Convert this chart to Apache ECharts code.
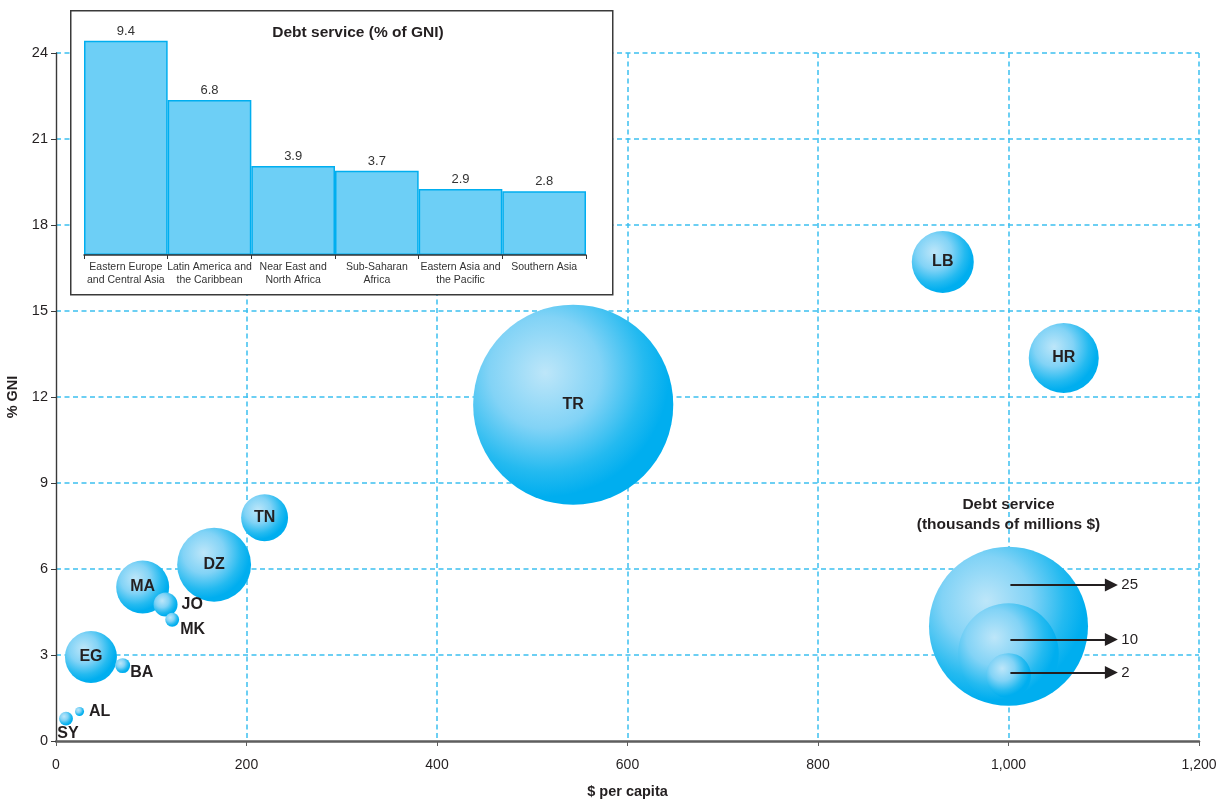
<!DOCTYPE html>
<html>
<head>
<meta charset="utf-8">
<title>Debt service bubble chart</title>
<script src="https://cdn.jsdelivr.net/npm/echarts@6/dist/echarts.min.js"></script>
<style>
  html, body { margin: 0; padding: 0; background: #fff; }
  #chart { width: 1226px; height: 799px; }
</style>
</head>
<body>
<div id="chart"></div>
<script>
// bubbles: country, $ per capita, % GNI, debt service (thousands of millions $)
const countries = ['SY', 'AL', 'EG', 'BA', 'MA', 'JO', 'MK', 'DZ', 'TN', 'TR', 'LB', 'HR'];
const perCapita = [10.5, 24.7, 36.7, 70, 91, 115, 122, 166, 219, 543, 931, 1058];
const pctGNI = [0.78, 1.03, 2.93, 2.63, 5.37, 4.76, 4.23, 6.15, 7.79, 11.73, 16.71, 13.36];
const debtService = [0.19, 0.08, 2.67, 0.22, 2.78, 0.57, 0.19, 5.4, 2.18, 39.6, 3.8, 4.85];

// size legend
const legendSizes = [25, 10, 2];
const legendX = 1000;
const legendY = [4.0, 3.05, 2.28];
const arrowY = [5.44, 3.54, 2.39];
const arrowEndX = 1108;

// inset: debt service % of GNI by region
const regions = [
  'Eastern Europe\nand Central Asia',
  'Latin America and\nthe Caribbean',
  'Near East and\nNorth Africa',
  'Sub-Saharan\nAfrica',
  'Eastern Asia and\nthe Pacific',
  'Southern Asia'
];
const regionDebt = [9.4, 6.8, 3.9, 3.7, 2.9, 2.8];

const xTicks = { min: 0, max: 1200, interval: 200 };
const yTicks = { min: 0, max: 24, interval: 3 };

const FONT = 'Liberation Sans, Arial, Helvetica, sans-serif';
const INK = '#231f20';
const GRID_BLUE = '#3cc0f0';

// labels that sit outside the small bubbles
const outsideLabel = {
  JO: { position: 'right', distance: 4 },
  MK: { position: 'right', distance: 1, offset: [0, 10] },
  BA: { position: 'right', distance: 0, offset: [0, 7] },
  AL: { position: 'right', distance: 5 },
  SY: { position: 'bottom', distance: 0, offset: [2, 0] }
};

let bubbleFill = new echarts.graphic.RadialGradient(0.36, 0.34, 0.62, [
  { offset: 0, color: '#bde6f9' },
  { offset: 0.45, color: '#82d3f6' },
  { offset: 0.8, color: '#24baf0' },
  { offset: 1, color: '#00aeef' }
]);

let sizeOf = (v) => Math.sqrt(v[2]) * 31.8;

let bubbleData = countries.map((c, i) => {
  let item = { name: c, value: [perCapita[i], pctGNI[i], debtService[i]] };
  if (outsideLabel[c]) item.label = outsideLabel[c];
  return item;
});

let legendData = legendSizes.map((s, i) => {
  let item = { name: String(s), value: [legendX, legendY[i], s], label: { show: false } };
  if (i === 0) {
    item.label = {
      show: true,
      position: 'top',
      distance: 12,
      formatter: 'Debt service\n(thousands of millions $)',
      fontSize: 15.5,
      lineHeight: 20
    };
  }
  return item;
});

let chart = echarts.init(document.getElementById('chart'), null, { renderer: 'canvas' });

let dashed = { color: GRID_BLUE, type: [5, 3.5], width: 1.5 };

let option = {
  animation: false,
  backgroundColor: '#ffffff',
  textStyle: { fontFamily: FONT },
  title: {
    text: 'Debt service (% of GNI)',
    left: 353,
    top: 20,
    textAlign: 'center',
    textStyle: { fontSize: 15.5, fontWeight: 'bold', color: INK, fontFamily: FONT },
    z: 6
  },
  graphic: [
    {
      type: 'rect',
      left: 70,
      top: 10,
      shape: { width: 542, height: 284 },
      style: { fill: '#ffffff', stroke: '#3a3a3a', lineWidth: 1.5 },
      z: 2
    }
  ],
  grid: [
    { left: 56, right: 27, top: 53, bottom: 58, containLabel: false, outerBoundsMode: 'none' },
    { left: 84, right: 640, top: 27, bottom: 544, containLabel: false, outerBoundsMode: 'none' }
  ],
  xAxis: [
    {
      type: 'value',
      gridIndex: 0,
      min: xTicks.min,
      max: xTicks.max,
      interval: xTicks.interval,
      name: '$ per capita',
      nameLocation: 'middle',
      nameGap: 43,
      nameTextStyle: { fontSize: 14.5, fontWeight: 'bold', color: INK },
      axisLine: { lineStyle: { color: '#5e5e5e', width: 2.5 } },
      axisTick: { show: true, length: 5, lineStyle: { color: '#5e5e5e' } },
      axisLabel: {
        fontSize: 14,
        color: INK,
        margin: 17,
        formatter: (v) => v.toLocaleString('en-US')
      },
      splitLine: { show: true, showMinLine: false, lineStyle: dashed }
    },
    {
      type: 'category',
      gridIndex: 1,
      data: regions,
      z: 5,
      axisLine: { lineStyle: { color: '#333', width: 1.5 } },
      axisTick: { show: true, length: 4, lineStyle: { color: '#333' } },
      axisLabel: {
        interval: 0,
        margin: 6,
        align: 'center',
        formatter: (v) => v.split('\n').map((l) => '{a|' + l + '}').join('\n'),
        rich: { a: { fontSize: 10.5, color: '#333', lineHeight: 13, fontFamily: FONT } }
      },
      splitLine: { show: false }
    }
  ],
  yAxis: [
    {
      type: 'value',
      gridIndex: 0,
      min: yTicks.min,
      max: yTicks.max,
      interval: yTicks.interval,
      name: '% GNI',
      nameLocation: 'middle',
      nameGap: 30,
      nameRotate: 90,
      nameTextStyle: { fontSize: 14.5, fontWeight: 'bold', color: INK },
      axisLine: { show: true, lineStyle: { color: '#3a3a3a', width: 1.4 } },
      axisTick: { show: true, length: 5, lineStyle: { color: '#3a3a3a' } },
      axisLabel: { fontSize: 14.5, color: INK, margin: 8 },
      splitLine: { show: true, showMinLine: false, lineStyle: dashed }
    },
    {
      type: 'value',
      gridIndex: 1,
      min: 0,
      max: 10,
      show: false
    }
  ],
  series: [
    {
      name: 'countries',
      type: 'scatter',
      xAxisIndex: 0,
      yAxisIndex: 0,
      data: bubbleData,
      symbolSize: sizeOf,
      itemStyle: { color: bubbleFill, opacity: 1 },
      label: {
        show: true,
        position: 'inside',
        formatter: '{b}',
        fontSize: 16,
        fontWeight: 'bold',
        color: INK
      },
      z: 3
    },
    {
      name: 'size legend',
      type: 'scatter',
      xAxisIndex: 0,
      yAxisIndex: 0,
      data: legendData,
      symbolSize: sizeOf,
      itemStyle: { color: bubbleFill, opacity: 1 },
      label: { fontSize: 15.5, fontWeight: 'bold', color: INK },
      markLine: {
        silent: true,
        symbol: ['none', 'triangle'],
        symbolSize: 13,
        lineStyle: { color: INK, width: 1.8, type: 'solid' },
        label: {
          show: true,
          position: 'end',
          distance: 10,
          formatter: '{b}',
          fontSize: 15,
          color: INK
        },
        data: legendSizes.map((s, i) => [
          { name: String(s), coord: [legendX + 2, arrowY[i]] },
          { coord: [arrowEndX, arrowY[i]] }
        ])
      },
      z: 4
    },
    {
      name: 'Debt service (% of GNI)',
      type: 'bar',
      xAxisIndex: 1,
      yAxisIndex: 1,
      data: regionDebt,
      barCategoryGap: 0,
      itemStyle: { color: '#6dcff6', borderColor: '#00aeef', borderWidth: 1.5 },
      label: {
        show: true,
        position: 'top',
        distance: 3,
        fontSize: 13,
        color: '#333'
      },
      z: 4
    }
  ]
};

chart.setOption(option);
</script>
</body>
</html>
